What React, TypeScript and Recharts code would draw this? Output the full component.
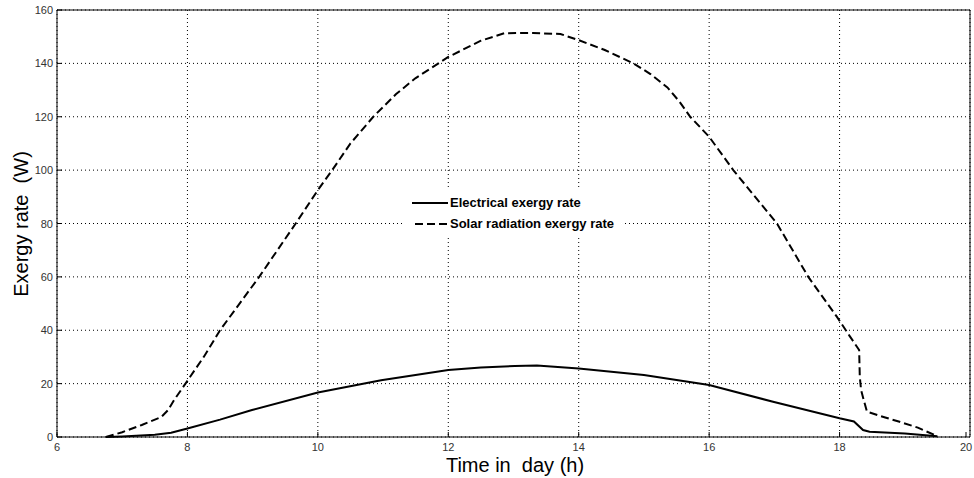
import React from "react";
import { CartesianGrid, Label, Line, LineChart, XAxis, YAxis } from "recharts";

const xTicks = [6, 8, 10, 12, 14, 16, 18, 20];
const yTicks = [0, 20, 40, 60, 80, 100, 120, 140, 160];

const solarHours = [6.75, 7.0, 7.3, 7.6, 7.7, 7.8, 7.97, 8.25, 8.5, 9.1, 9.66, 10.0, 10.22, 10.5, 10.85, 11.2, 11.5, 11.85, 12.0, 12.5, 12.86, 13.3, 13.72, 14.0, 14.4, 14.84, 15.1, 15.36, 15.55, 15.71, 16.0, 16.37, 17.04, 17.52, 17.96, 18.15, 18.3, 18.31, 18.33, 18.37, 18.42, 18.7, 18.92, 19.2, 19.49];
const solarValues = [0, 1.8, 4.5, 7.5, 10, 14, 20, 30, 40, 60, 80, 92.5, 100, 110, 120, 128.5, 134.5, 140, 142.4, 148.5, 151.3, 151.4, 151, 148.7, 145, 140, 136, 131, 125.5, 120, 112.5, 100, 80, 60, 45, 38, 32.6, 22.6, 17.6, 13.9, 9.5, 7.3, 5.7, 3.5, 0.4];

const elecHours = [6.75, 7.0, 7.5, 7.75, 8.0, 8.5, 8.99, 10.0, 10.97, 12.0, 12.5, 13.02, 13.36, 14.0, 15.0, 16.0, 16.98, 18.0, 18.22, 18.36, 18.46, 19.0, 19.5];
const elecValues = [0, 0.2, 0.8, 1.6, 3.2, 6.5, 10.1, 16.7, 21.3, 25.1, 26, 26.6, 26.8, 25.7, 23.2, 19.5, 13.2, 7, 5.8, 2.6, 2.0, 1.3, 0.3];

const solarData = solarHours.map((h, i) => ({ h, v: solarValues[i] }));
const elecData = elecHours.map((h, i) => ({ h, v: elecValues[i] }));

const FONT = "'Liberation Sans', Arial, sans-serif";

function LeftTick(props: any) {
  const { x, y, payload } = props;
  return (
    <g>
      <text x={x} y={y} dy={4} textAnchor="end" fontSize={11} fill="#333" fontFamily={FONT}>
        {payload.value}
      </text>
      <line x1={x + 4} x2={x + 9} y1={y} y2={y} stroke="#000" />
    </g>
  );
}

function RightTick(props: any) {
  const { x, y } = props;
  return <line x1={x - 5} x2={x} y1={y} y2={y} stroke="#000" />;
}

function BottomTick(props: any) {
  const { x, y, payload } = props;
  return (
    <g>
      <text x={x} y={y} dy={10} textAnchor="middle" fontSize={11} fill="#333" fontFamily={FONT}>
        {payload.value}
      </text>
      <line x1={x} x2={x} y1={y - 4} y2={y - 9} stroke="#000" />
    </g>
  );
}

function TopTick(props: any) {
  const { x, y } = props;
  return <line x1={x} x2={x} y1={y} y2={y + 5} stroke="#000" />;
}

function LegendBox() {
  const row = { display: "flex", alignItems: "center", height: 21 } as const;
  return (
    <div
      style={{
        position: "absolute",
        left: 405,
        top: 189,
        width: 218,
        height: 46,
        background: "#fff",
        paddingTop: 3,
        boxSizing: "border-box",
        fontFamily: FONT,
        fontSize: 13,
        fontWeight: "bold",
        color: "#000",
        whiteSpace: "nowrap",
      }}
    >
      <div style={row}>
        <svg width={45} height={10}>
          <line x1={7} x2={43} y1={5} y2={5} stroke="#000" strokeWidth={2} />
        </svg>
        <span>Electrical exergy rate</span>
      </div>
      <div style={row}>
        <svg width={45} height={10}>
          <line x1={10} x2={43} y1={5} y2={5} stroke="#000" strokeWidth={2} strokeDasharray="8 4" />
        </svg>
        <span>Solar radiation exergy rate</span>
      </div>
    </div>
  );
}

export default function App() {
  return (
    <div style={{ position: "absolute", left: 0, top: 0, width: 974, height: 478, background: "#fff" }}>
      <LineChart width={974} height={478} margin={{ top: 9, right: 3, bottom: 0, left: 0 }}>
        <CartesianGrid stroke="#000" strokeDasharray="1 3" strokeWidth={1} />
        <XAxis
          dataKey="h"
          type="number"
          domain={[6, 20]}
          ticks={xTicks}
          height={41}
          tickSize={0}
          tickMargin={4}
          tickLine={false}
          axisLine={{ stroke: "#000" }}
          tick={<BottomTick />}
          allowDuplicatedCategory={false}
        >
          <Label
            content={() => (
              <text x={515} y={472} textAnchor="middle" fontSize={20} fontFamily={FONT} fill="#000" style={{ whiteSpace: "pre" }}>
                Time in  day (h)
              </text>
            )}
          />
        </XAxis>
        <XAxis
          xAxisId="t"
          orientation="top"
          dataKey="h"
          type="number"
          domain={[6, 20]}
          ticks={xTicks}
          height={1}
          tickSize={0}
          tickMargin={0}
          tickLine={false}
          axisLine={{ stroke: "#000" }}
          tick={<TopTick />}
        />
        <YAxis
          type="number"
          domain={[0, 160]}
          ticks={yTicks}
          width={57}
          tickSize={0}
          tickMargin={4}
          tickLine={false}
          axisLine={{ stroke: "#000" }}
          tick={<LeftTick />}
        >
          <Label
            content={() => (
              <text
                x={21}
                y={224}
                transform="rotate(-90 21 224)"
                textAnchor="middle"
                dominantBaseline="central"
                fontSize={20}
                fontFamily={FONT}
                fill="#000"
                style={{ whiteSpace: "pre" }}
              >
                Exergy rate  (W)
              </text>
            )}
          />
        </YAxis>
        <YAxis
          yAxisId="r"
          orientation="right"
          type="number"
          domain={[0, 160]}
          ticks={yTicks}
          width={1}
          tickSize={0}
          tickMargin={0}
          tickLine={false}
          axisLine={{ stroke: "#000" }}
          tick={<RightTick />}
        />
        <Line
          data={solarData}
          dataKey="v"
          name="Solar radiation exergy rate"
          type="linear"
          stroke="#000"
          strokeWidth={2}
          strokeDasharray="8 4"
          dot={false}
          isAnimationActive={false}
        />
        <Line
          data={elecData}
          dataKey="v"
          name="Electrical exergy rate"
          type="linear"
          stroke="#000"
          strokeWidth={2}
          dot={false}
          isAnimationActive={false}
        />
      </LineChart>
      <LegendBox />
    </div>
  );
}
